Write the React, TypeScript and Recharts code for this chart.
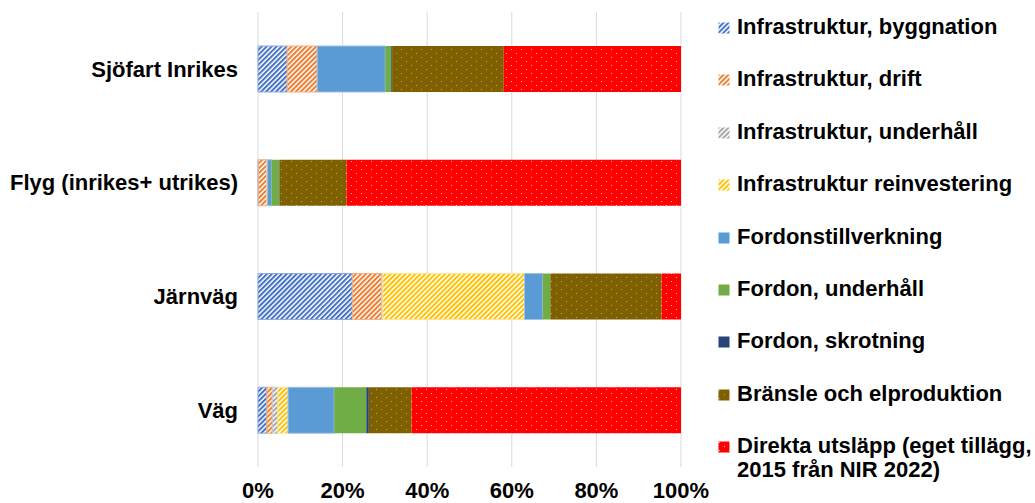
import { BarChart, Bar, XAxis, YAxis, CartesianGrid } from "recharts";

const categories = ["Sjöfart Inrikes", "Flyg (inrikes+ utrikes)", "Järnväg", "Väg"];
const byggnation = [6.9, 0.1, 22.3, 2.1];
const drift = [7.1, 2.0, 6.9, 1.3];
const underhall = [0, 0, 0.3, 1.3];
const reinvestering = [0, 0.1, 33.5, 2.4];
const fordonstillverkning = [16.1, 1.0, 4.3, 10.9];
const fordonUnderhall = [1.4, 1.8, 1.8, 7.6];
const skrotning = [0.2, 0.1, 0, 0.6];
const bransle = [26.4, 15.8, 26.3, 10.1];
const direkta = [41.9, 79.1, 4.6, 63.7];
const xTicks = [0, 0.2, 0.4, 0.6, 0.8, 1];

const series = [
  { key: "byggnation", name: "Infrastruktur, byggnation", values: byggnation, fill: "url(#hatchBlue)", stroke: "#8FAADC" },
  { key: "drift", name: "Infrastruktur, drift", values: drift, fill: "url(#hatchOrange)", stroke: "#F4B183" },
  { key: "underhall", name: "Infrastruktur, underhåll", values: underhall, fill: "url(#hatchGrey)", stroke: "#C9C9C9" },
  { key: "reinvestering", name: "Infrastruktur reinvestering", values: reinvestering, fill: "url(#hatchYellow)", stroke: "#FFE699" },
  { key: "fordonstillverkning", name: "Fordonstillverkning", values: fordonstillverkning, fill: "#5B9BD5", stroke: "#9DC3E6" },
  { key: "fordonUnderhall", name: "Fordon, underhåll", values: fordonUnderhall, fill: "#70AD47", stroke: "none" },
  { key: "skrotning", name: "Fordon, skrotning", values: skrotning, fill: "#264478", stroke: "none" },
  { key: "bransle", name: "Bränsle och elproduktion", values: bransle, fill: "url(#dotsBrown)", stroke: "none" },
  { key: "direkta", name: "Direkta utsläpp (eget tillägg,\n2015 från NIR 2022)", values: direkta, fill: "url(#dotsRed)", stroke: "none" },
];

const data = categories.map((name, i) => {
  const row: Record<string, number | string> = { name };
  series.forEach((s) => (row[s.key] = s.values[i]));
  return row;
});

const FONT = '"Liberation Sans", Arial, sans-serif';

function Patterns() {
  const hatch = (id: string, color: string) => (
    <pattern id={id} width="3.5" height="4" patternUnits="userSpaceOnUse" patternTransform="rotate(45)">
      <rect width="3.5" height="4" fill="#ffffff" />
      <rect width="2" height="4" fill={color} />
    </pattern>
  );
  const dots = (id: string, bg: string, dot: string) => (
    <pattern id={id} width="10" height="8" patternUnits="userSpaceOnUse">
      <rect width="10" height="8" fill={bg} />
      <rect x="1" y="1" width="1" height="1" fill={dot} />
      <rect x="6" y="5" width="1" height="1" fill={dot} />
    </pattern>
  );
  return (
    <svg width="0" height="0" style={{ position: "absolute" }}>
      <defs>
        {hatch("hatchBlue", "#4472C4")}
        {hatch("hatchOrange", "#ED7D31")}
        {hatch("hatchGrey", "#A5A5A5")}
        {hatch("hatchYellow", "#FFC000")}
        {dots("dotsBrown", "#7F6000", "#C8A83C")}
        {dots("dotsRed", "#FF0000", "#FFB0B0")}
      </defs>
    </svg>
  );
}

function ChartLegend() {
  return (
    <div style={{ position: "absolute", left: 718, top: 0, fontFamily: FONT }}>
      {series.map((s, i) => (
        <div
          key={s.key}
          style={{ position: "absolute", top: 15 + 52.4 * i, left: 0, display: "flex", alignItems: "flex-start", whiteSpace: "pre" }}
        >
          <svg width="13" height="12" style={{ marginTop: 7, marginRight: 6, flexShrink: 0 }}>
            <rect x="0.5" y="0.5" width="11" height="11" fill={s.fill} />
          </svg>
          <span style={{ fontSize: 22, fontWeight: "bold", lineHeight: "23.5px", color: "#000" }}>{s.name}</span>
        </div>
      ))}
    </div>
  );
}

export default function App() {
  return (
    <div style={{ position: "absolute", left: 0, top: 0, width: 1035, height: 503, background: "#fff" }}>
      <Patterns />
      <BarChart
        width={1035}
        height={503}
        data={data}
        layout="vertical"
        stackOffset="expand"
        barSize={46}
        margin={{ top: 12, right: 354, bottom: 0, left: 0 }}
      >
        <CartesianGrid horizontal={false} stroke="#D9D9D9" />
        <XAxis
          type="number"
          domain={[0, 1]}
          ticks={xTicks}
          tickFormatter={(v: number) => `${Math.round(v * 100)}%`}
          axisLine={false}
          tickLine={false}
          tickSize={0}
          tickMargin={15}
          height={36}
          tick={{ fontSize: 22, fontWeight: "bold", fill: "#000", fontFamily: FONT }}
        />
        <YAxis
          type="category"
          dataKey="name"
          width={258}
          axisLine={false}
          tickLine={false}
          tickSize={0}
          tickMargin={20}
          tick={{ fontSize: 22, fontWeight: "bold", fill: "#000", fontFamily: FONT }}
        />
        {series.map((s) => (
          <Bar
            key={s.key}
            dataKey={s.key}
            name={s.name}
            stackId="a"
            fill={s.fill}
            stroke={s.stroke}
            strokeWidth={1}
            isAnimationActive={false}
          />
        ))}
      </BarChart>
      <ChartLegend />
    </div>
  );
}
